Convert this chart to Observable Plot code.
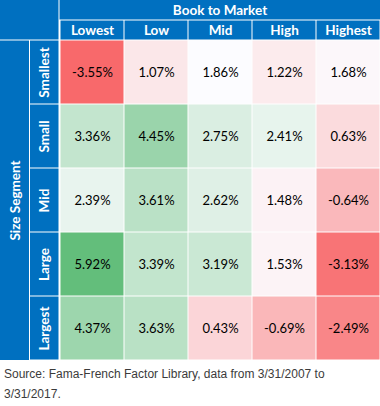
<!DOCTYPE html>
<html>
<head>
<meta charset="utf-8">
<script src="https://cdn.jsdelivr.net/npm/d3@7"></script>
<script src="https://cdn.jsdelivr.net/npm/@observablehq/plot@0.6"></script>
<style>
  html, body { margin: 0; padding: 0; background: #fff; }
  #chart svg { display: block; }
  .caption {
    font-family: "Liberation Sans", Arial, sans-serif;
    font-size: 12px;
    line-height: 20px;
    color: #3b3b3b;
    margin: 4px 0 0 4px;
  }
</style>
</head>
<body>
<div id="chart"></div>
<div class="caption">Source: Fama-French Factor Library, data from 3/31/2007 to<br>3/31/2017.</div>
<script>
// Annualized returns (%) by size segment (rows) and book-to-market bucket (columns)
const bookToMarket = ["Lowest", "Low", "Mid", "High", "Highest"];
const sizeSegments = ["Smallest", "Small", "Mid", "Large", "Largest"];
const smallest = [-3.55, 1.07, 1.86, 1.22, 1.68];
const small    = [ 3.36, 4.45, 2.75, 2.41, 0.63];
const mid      = [ 2.39, 3.61, 2.62, 1.48, -0.64];
const large    = [ 5.92, 3.39, 3.19, 1.53, -3.13];
const largest  = [ 4.37, 3.63, 0.43, -0.69, -2.49];

const rowsByName = {Smallest: smallest, Small: small, Mid: mid, Large: large, Largest: largest};
const cells = sizeSegments.flatMap(size =>
  rowsByName[size].map((value, i) => ({size, btm: bookToMarket[i], value}))
);

// Layout of the table
const W = 380, H = 360;
const HEAD = 40;      // two header rows above the grid
const HEAD1 = 20;     // "Book to Market" row
const SIDE = 59;      // two label columns left of the grid
const SIDE1 = 29.5;   // "Size Segment" column
const BLUE = "#0070C0";
const GAP = 0.5;

// three-colour scale: min → median → max
const values = cells.map(d => d.value);
const lo = d3.min(values), mid50 = d3.median(values), hi = d3.max(values);

const headerFont = {fontFamily: "Lato, sans-serif", fontWeight: "bold", fontSize: 13.5, fill: "white", textAnchor: "middle", lineAnchor: "middle"};
const whole = {x: null, y: null, fill: BLUE};

const chart = Plot.plot({
  width: W,
  height: H,
  marginTop: HEAD,
  marginLeft: SIDE,
  marginRight: 0,
  marginBottom: 0,
  style: {background: "white", overflow: "visible"},
  x: {domain: bookToMarket, padding: 0, axis: null},
  y: {domain: sizeSegments, padding: 0, axis: null},
  color: {type: "linear", domain: [lo, mid50, hi], range: ["#F8696B", "#FCFCFF", "#63BE7B"], interpolate: "rgb"},
  marks: [
    // top-left corner block
    Plot.cell([0], {...whole, insetTop: -HEAD, insetBottom: H - HEAD + GAP, insetLeft: -SIDE, insetRight: W - SIDE + GAP}),
    // "Book to Market" banner across the columns
    Plot.cell([0], {...whole, insetTop: -HEAD, insetBottom: H - HEAD1 + GAP, insetLeft: GAP}),
    // column header cells
    Plot.cell(bookToMarket, {x: d => d, fill: BLUE, insetTop: -(HEAD - HEAD1 - GAP), insetBottom: H - HEAD + GAP, insetLeft: GAP, insetRight: GAP}),
    // "Size Segment" band down the left
    Plot.cell([0], {...whole, insetTop: GAP, insetLeft: -SIDE, insetRight: W - SIDE1 + GAP}),
    // row header cells
    Plot.cell(sizeSegments, {y: d => d, fill: BLUE, insetTop: GAP, insetBottom: GAP, insetLeft: -(SIDE - SIDE1 - GAP), insetRight: W - SIDE + GAP}),
    // heatmap cells
    Plot.cell(cells, {x: "btm", y: "size", fill: "value", inset: GAP}),
    Plot.text(cells, {
      x: "btm", y: "size",
      text: d => d.value.toFixed(2) + "%",
      fontFamily: "Lato, sans-serif", fontSize: 13, fill: "black"
    }),
    // header labels
    Plot.text(["Book to Market"], {frameAnchor: "top", dy: -(HEAD - HEAD1 / 2), ...headerFont}),
    Plot.text(bookToMarket, {x: d => d, frameAnchor: "top", dy: -(HEAD - HEAD1) / 2, ...headerFont}),
    Plot.text(sizeSegments, {y: d => d, frameAnchor: "left", dx: -(SIDE - SIDE1) / 2, rotate: -90, ...headerFont}),
    Plot.text(["Size Segment"], {frameAnchor: "left", dx: -(SIDE - SIDE1 / 2), rotate: -90, ...headerFont})
  ]
});

document.getElementById("chart").append(chart);
</script>
</body>
</html>
